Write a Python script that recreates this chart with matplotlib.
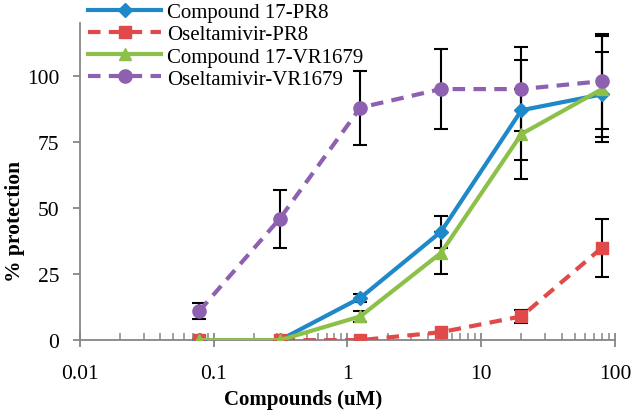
import matplotlib
matplotlib.use("Agg")
import matplotlib.pyplot as plt
import numpy as np
from matplotlib.ticker import LogLocator, FixedLocator, NullFormatter, FuncFormatter

plt.rcParams['font.family'] = ['Liberation Serif', 'DejaVu Serif']

conc = [0.078, 0.3125, 1.25, 5, 20, 80]

names = ["Compound 17-PR8", "Oseltamivir-PR8", "Compound 17-VR1679", "Oseltamivir-VR1679"]
c17_pr8 = [0, 0, 16, 41, 87, 93]
c17_pr8_err = [0, 0, 1.5, 6, 19, 16]
osel_pr8 = [0, 0, 0, 3, 9, 35]
osel_pr8_err = [0, 0, 0, 0, 2.5, 11]
c17_vr = [0, 0, 9, 33, 78, 95]
c17_vr_err = [0, 0, 2, 8, 17, 20]
osel_vr = [11, 46, 88, 95, 95, 98]
osel_vr_err = [3, 11, 14, 15, 16, 18]

colors = ["#1E88C8", "#E04A4A", "#8CC049", "#8E60B0"]
markers = ["D", "s", "^", "o"]
msizes = [7.5, 8.5, 9, 9.5]
styles = ["-", "--", "-", "--"]
series = [c17_pr8, osel_pr8, c17_vr, osel_vr]
errs = [c17_pr8_err, osel_pr8_err, c17_vr_err, osel_vr_err]

fig = plt.figure(figsize=(6.34, 4.14), dpi=100)
ax = fig.add_axes([0.126, 0.176, 0.844, 0.766])

for y, e in zip(series, errs):
    ax.errorbar(conc, y, yerr=e, fmt='none', ecolor='black', elinewidth=1.5,
                capsize=5, capthick=1.5, zorder=2)

for name, y, c, m, ms, ls in zip(names, series, colors, markers, msizes, styles):
    ax.plot(conc, y, color=c, marker=m, markersize=ms, linestyle=ls, linewidth=3,
            label=name, zorder=3, dashes=(3, 2) if ls == "--" else (None, None))

ax.set_xscale('log')
ax.set_xlim(0.01, 100)
ax.set_ylim(0, 120)
ax.set_yticks([0, 25, 50, 75, 100])
ax.xaxis.set_major_locator(FixedLocator([0.01, 0.1, 1, 10, 100]))
ax.xaxis.set_major_formatter(FuncFormatter(lambda v, p: f"{v:g}"))
ax.xaxis.set_minor_locator(LogLocator(base=10, subs=np.arange(2, 10), numticks=20))
ax.xaxis.set_minor_formatter(NullFormatter())

for s in ['top', 'right']:
    ax.spines[s].set_visible(False)
for s in ['left', 'bottom']:
    ax.spines[s].set_color('#868686')
    ax.spines[s].set_linewidth(1.3)

ax.tick_params(axis='x', which='major', direction='inout', length=10, width=1.3, color='#868686', labelsize=15.5, pad=12)
ax.tick_params(axis='x', which='minor', direction='in', length=5, width=1.1, color='#868686')
ax.tick_params(axis='y', which='major', direction='out', length=5, width=1.3, color='#868686', labelsize=15.5, pad=10)

ax.set_xlabel("Compounds (uM)", fontsize=15, fontweight='bold')
ax.set_ylabel("% protection", fontsize=15.5, fontweight='bold')
ax.xaxis.set_label_coords((303 - 80) / 535, (341 - 390) / 317)
ax.yaxis.set_label_coords((25 - 80) / 535, (341 - 221) / 317)

leg = ax.legend(loc='upper left', bbox_to_anchor=(0.0, 1.09), frameon=False, fontsize=15,
                handlelength=3.5, handletextpad=0.3, labelspacing=0.12, borderaxespad=0)

fig.savefig("out.png", dpi=100)
